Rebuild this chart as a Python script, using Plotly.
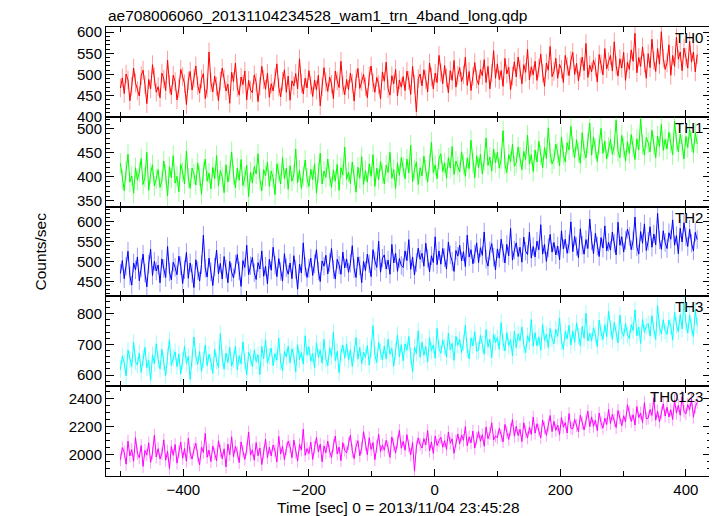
import plotly.graph_objects as go
from plotly.subplots import make_subplots

# time bins (sec): first bin and bin width
t_start = -500
t_step = 3

th0 = [468, 492, 455, 501, 487, 438, 472, 515, 480, 462,
       449, 497, 510, 476, 431, 488, 466, 523, 494, 458,
       471, 445, 503, 489, 462, 534, 477, 452, 498, 483,
       440, 467, 512, 495, 478, 429, 485, 507, 463, 491,
       520, 474, 456, 489, 502, 443, 468, 553, 481, 459,
       496, 472, 438, 484, 515, 490, 461, 477, 432, 505,
       483, 527, 469, 451, 494, 476, 508, 440, 486, 463,
       457, 499, 481, 436, 472, 519, 488, 465, 503, 446,
       478, 461, 492, 525, 470, 447, 484, 511, 458, 496,
       439, 485, 473, 502, 466, 537, 479, 454, 491, 468,
       509, 475, 448, 487, 463, 498, 426, 471, 516, 482,
       460, 494, 477, 443, 508, 485, 469, 531, 474, 452,
       488, 464, 503, 479, 437, 490, 514, 467, 483, 500,
       471, 445, 496, 520, 481, 458, 493, 476, 442, 506,
       484, 529, 466, 451, 497, 478, 512, 449, 487, 470,
       495, 462, 508, 486, 453, 519, 477, 412, 490, 501,
       473, 511, 488, 459, 527, 494, 466, 503, 481, 545,
       504, 478, 521, 492, 457, 509, 486, 533, 470, 498,
       516, 483, 499, 541, 474, 507, 462, 495, 528, 489,
       476, 512, 497, 535, 481, 519, 466, 503, 556, 491,
       525, 488, 509, 472, 538, 501, 517, 464, 496, 530,
       494, 541, 512, 478, 523, 505, 559, 487, 518, 499,
       531, 486, 515, 548, 503, 472, 527, 510, 566, 495,
       507, 538, 491, 524, 512, 481, 545, 519, 497, 533,
       552, 500, 526, 485, 517, 541, 509, 573, 493, 522,
       506, 534, 518, 482, 547, 525, 499, 561, 513, 530,
       545, 508, 577, 521, 496, 537, 515, 552, 486, 529,
       512, 558, 531, 597, 504, 540, 519, 565, 527, 491,
       549, 516, 583, 533, 507, 561, 524, 601, 538, 512,
       527, 570, 498, 545, 519, 588, 536, 553, 509, 562,
       541, 515, 578, 529, 553, 506, 547]

th1 = [428, 395, 371, 412, 447, 389, 402, 366, 419, 393,
       410, 438, 384, 399, 451, 372, 407, 425, 381, 396,
       415, 378, 392, 433, 405, 360, 421, 398, 444, 387,
       401, 369, 426, 410, 385, 454, 397, 376, 418, 406,
       383, 429, 402, 364, 412, 437, 391, 408, 375, 420,
       396, 444, 381, 413, 400, 367, 425, 389, 411, 452,
       404, 377, 418, 393, 436, 382, 399, 424, 359, 410,
       387, 421, 406, 448, 394, 371, 415, 402, 431, 380,
       412, 398, 363, 427, 409, 385, 440, 396, 418, 374,
       423, 391, 405, 458, 388, 414, 376, 401, 435, 397,
       380, 416, 394, 427, 366, 408, 449, 385, 412, 399,
       437, 402, 378, 415, 391, 426, 372, 419, 404, 462,
       395, 410, 386, 431, 403, 368, 420, 397, 442, 384,
       413, 389, 427, 401, 446, 380, 418, 394, 432, 407,
       385, 424, 409, 451, 397, 415, 376, 429, 403, 440,
       421, 396, 437, 408, 466, 390, 415, 431, 384, 419,
       402, 443, 414, 389, 428, 472, 409, 425, 396, 437,
       448, 411, 429, 397, 440, 418, 463, 405, 433, 421,
       410, 452, 426, 401, 439, 417, 476, 428, 398, 444,
       419, 447, 406, 435, 481, 424, 441, 412, 458, 429,
       451, 418, 437, 496, 426, 409, 446, 432, 468, 422,
       429, 462, 441, 415, 453, 436, 487, 427, 446, 411,
       456, 431, 474, 445, 419, 461, 438, 502, 449, 427,
       437, 468, 450, 423, 483, 446, 431, 471, 456, 505,
       462, 440, 477, 451, 428, 492, 455, 439, 470, 512,
       445, 483, 459, 432, 467, 501, 449, 474, 437, 462,
       478, 447, 465, 518, 452, 440, 486, 461, 433, 473,
       449, 488, 463, 436, 479, 456, 521, 468, 445, 482,
       471, 452, 497, 466, 440, 485, 463, 509, 455, 478,
       458, 493, 470, 446, 516, 474, 452, 489, 467, 437,
       484, 461, 499, 473, 450, 492, 469]

th2 = [471, 503, 458, 489, 526, 465, 442, 497, 480, 512,
       453, 485, 519, 472, 438, 494, 531, 466, 501, 477,
       492, 448, 507, 483, 461, 538, 475, 455, 499, 486,
       468, 514, 490, 446, 480, 523, 459, 497, 471, 436,
       505, 478, 452, 493, 566, 484, 462, 509, 475, 441,
       487, 529, 470, 496, 457, 513, 482, 448, 501, 474,
       460, 494, 518, 477, 439, 503, 486, 541, 468, 490,
       511, 473, 456, 498, 482, 527, 464, 489, 445, 506,
       479, 536, 491, 463, 508, 476, 452, 520, 485, 469,
       497, 458, 515, 481, 432, 494, 472, 547, 488, 461,
       484, 509, 466, 495, 530, 477, 451, 502, 489, 516,
       470, 498, 533, 481, 457, 506, 492, 469, 524, 485,
       507, 474, 496, 540, 483, 461, 512, 490, 448, 501,
       478, 519, 495, 463, 530, 502, 486, 551, 474, 509,
       517, 482, 504, 469, 543, 497, 521, 476, 508, 491,
       486, 527, 503, 555, 481, 512, 467, 498, 534, 506,
       521, 489, 546, 508, 475, 515, 498, 562, 493, 527,
       494, 533, 510, 482, 549, 517, 501, 476, 528, 514,
       541, 502, 525, 488, 566, 512, 530, 495, 519, 547,
       498, 535, 516, 574, 506, 489, 527, 545, 511, 480,
       532, 509, 556, 521, 497, 543, 515, 583, 504, 529,
       547, 513, 536, 499, 561, 526, 518, 574, 509, 538,
       512, 551, 530, 592, 519, 543, 501, 535, 568, 524,
       548, 517, 539, 505, 577, 532, 556, 521, 544, 599,
       525, 563, 538, 510, 582, 541, 519, 555, 533, 606,
       552, 520, 571, 539, 513, 560, 534, 589, 527, 548,
       529, 574, 546, 517, 598, 541, 562, 524, 553, 581,
       563, 530, 552, 611, 537, 519, 575, 546, 594, 528,
       551, 587, 536, 569, 542, 620, 554, 531, 577, 548,
       533, 572, 556, 604, 541, 565, 520, 583, 549, 597,
       562, 538, 581, 546, 527, 573, 555]

th3 = [618, 662, 640, 597, 681, 651, 628, 707, 644, 633,
       672, 609, 655, 690, 624, 648, 583, 666, 637, 702,
       651, 620, 684, 643, 599, 661, 715, 632, 656, 676,
       627, 669, 604, 647, 693, 638, 661, 586, 653, 724,
       660, 635, 677, 612, 649, 698, 631, 668, 643, 606,
       684, 646, 625, 735, 657, 619, 672, 641, 690, 629,
       652, 694, 618, 663, 637, 708, 645, 601, 674, 658,
       627, 681, 644, 666, 602, 693, 653, 715, 639, 660,
       688, 631, 670, 649, 720, 642, 615, 677, 659, 694,
       640, 686, 662, 611, 699, 651, 673, 636, 728, 665,
       692, 645, 670, 624, 705, 658, 682, 639, 716, 653,
       631, 689, 661, 740, 647, 677, 608, 671, 698, 655,
       702, 649, 683, 628, 669, 722, 652, 690, 637, 675,
       658, 696, 633, 684, 761, 664, 641, 707, 676, 649,
       695, 652, 717, 668, 687, 629, 680, 731, 660, 699,
       646, 702, 681, 726, 663, 610, 690, 671, 744, 658,
       707, 664, 693, 643, 722, 679, 698, 655, 752, 686,
       671, 714, 690, 659, 737, 682, 703, 648, 726, 697,
       716, 673, 706, 762, 684, 653, 721, 695, 741, 678,
       681, 729, 700, 668, 748, 691, 716, 657, 733, 706,
       722, 684, 771, 705, 679, 738, 696, 715, 662, 743,
       689, 734, 712, 756, 697, 673, 728, 708, 781, 694,
       738, 695, 724, 681, 765, 712, 733, 690, 752, 719,
       702, 749, 726, 786, 709, 684, 741, 718, 762, 698,
       743, 706, 770, 727, 695, 758, 720, 801, 711, 736,
       712, 754, 731, 693, 779, 740, 716, 764, 725, 808,
       751, 716, 772, 738, 705, 795, 742, 726, 768, 731,
       719, 764, 745, 812, 728, 756, 703, 781, 739, 760,
       768, 727, 793, 749, 716, 826, 755, 735, 780, 743,
       732, 779, 758, 714, 805, 762, 741, 797, 750, 838,
       771, 737, 795, 756, 725, 812, 761]

th0123 = [1962, 2048, 2015, 1930, 2095, 1988, 2034, 1951, 2120, 2005,
          1976, 2063, 1914, 2028, 1995, 2082, 1943, 2010, 2137, 1981,
          2041, 1967, 2005, 2104, 1958, 2022, 1899, 2056, 1993, 2071,
          1937, 2019, 2088, 1972, 2043, 1951, 2115, 2008, 1966, 2035,
          2079, 1990, 1925, 2052, 2014, 2150, 1979, 2031, 1948, 2060,
          2003, 1954, 2097, 2026, 1969, 2040, 1910, 2074, 1997, 2126,
          1983, 2058, 2012, 1941, 2089, 2021, 1964, 2037, 2160, 1995,
          2032, 1958, 2084, 1990, 2046, 1927, 2012, 2109, 1975, 2051,
          1989, 2067, 2024, 1946, 2128, 2003, 2058, 1961, 2039, 2095,
          2054, 1976, 2102, 2015, 1952, 2071, 2030, 2180, 1993, 2041,
          2006, 2087, 1964, 2049, 2121, 2018, 2073, 1947, 2060, 2012,
          2095, 2020, 1978, 2064, 2131, 2003, 2052, 1955, 2083, 2030,
          2011, 2076, 2137, 2025, 1969, 2058, 2098, 1990, 2047, 2162,
          2072, 1997, 2119, 2035, 2084, 1962, 2055, 2143, 2021, 2066,
          2030, 2101, 2047, 1978, 2124, 2068, 2010, 2089, 2172, 2044,
          2093, 2029, 2141, 2060, 1996, 2085, 1880, 2052, 2118, 2071,
          2045, 2113, 2068, 2170, 2024, 2089, 2007, 2131, 2063, 2097,
          2122, 2051, 2098, 2036, 2160, 2079, 2112, 2008, 2094, 2146,
          2076, 2139, 2101, 2198, 2062, 2125, 2083, 2166, 2045, 2117,
          2163, 2094, 2141, 2058, 2195, 2112, 2150, 2226, 2103, 2132,
          2118, 2187, 2136, 2090, 2214, 2158, 2107, 2176, 2249, 2130,
          2201, 2135, 2179, 2092, 2226, 2160, 2118, 2193, 2143, 2267,
          2152, 2219, 2174, 2118, 2245, 2190, 2136, 2207, 2278, 2163,
          2236, 2172, 2210, 2141, 2264, 2195, 2227, 2153, 2292, 2188,
          2183, 2250, 2206, 2162, 2281, 2224, 2175, 2240, 2309, 2199,
          2268, 2201, 2245, 2170, 2296, 2226, 2188, 2259, 2214, 2322,
          2221, 2287, 2243, 2192, 2314, 2262, 2205, 2276, 2233, 2355,
          2301, 2236, 2284, 2210, 2342, 2263, 2296, 2227, 2370, 2255,
          2260, 2321, 2279, 2403, 2245, 2310, 2232, 2296, 2362, 2274,
          2337, 2268, 2319, 2250, 2388, 2296, 2351, 2280, 2412, 2310,
          2290, 2356, 2318, 2395, 2266, 2340, 2372]

names = ["TH0", "TH1", "TH2", "TH3", "TH0123"]
series = [th0, th1, th2, th3, th0123]
errors = [22, 21, 23, 27, 46]
colors = ["#ff0000", "#00ff00", "#0000ff", "#00ffff", "#ff00ff"]
err_colors = ["rgba(255,0,0,0.4)", "rgba(0,255,0,0.4)", "rgba(0,0,255,0.4)",
              "rgba(0,255,255,0.4)", "rgba(255,0,255,0.4)"]
y_ranges = [[400, 612], [338, 525], [414, 637], [564, 856], [1845, 2488]]
y_dticks = [50, 50, 50, 100, 200]
y_minor = [10, 10, 10, 20, 50]
x_range = [-523, 440]

title_text = "ae708006060_20131104234528_wam1_trn_4band_long.qdp"
x_title = "Time [sec] 0 = 2013/11/04 23:45:28"
y_title = "Counts/sec"

FONT = "Liberation Sans, Arial, Helvetica, sans-serif"

fig = make_subplots(rows=5, cols=1, shared_xaxes=True, vertical_spacing=0)

for i, y in enumerate(series):
    x = [t_start + t_step * k for k in range(len(y))]
    fig.add_trace(go.Scatter(
        x=x, y=y, mode="lines",
        line=dict(color=colors[i], width=1),
        error_y=dict(type="constant", value=errors[i], color=err_colors[i],
                     thickness=1, width=0),
        showlegend=False, hoverinfo="skip"), row=i + 1, col=1)
    fig.update_yaxes(range=y_ranges[i], dtick=y_dticks[i], tick0=0,
                     ticks="inside", ticklen=8, tickcolor="black", tickwidth=1,
                     showline=True, linecolor="black", linewidth=1, mirror="ticks",
                     showgrid=False, zeroline=False,
                     minor=dict(dtick=y_minor[i], tick0=0, ticks="inside",
                                ticklen=4, tickcolor="black", showgrid=False),
                     row=i + 1, col=1)
    ax = "" if i == 0 else str(i + 1)
    fig.add_annotation(text=names[i], xref=f"x{ax} domain", yref=f"y{ax} domain",
                       x=1, y=1, xanchor="right", yanchor="top", xshift=-6, yshift=0,
                       showarrow=False, font=dict(size=15, color="black", family=FONT))

fig.update_xaxes(range=x_range, dtick=200, tick0=0,
                 ticks="inside", ticklen=7, tickcolor="black", tickwidth=1,
                 showline=True, linecolor="black", linewidth=1, mirror="ticks",
                 showgrid=False, zeroline=False,
                 minor=dict(dtick=100, tick0=0, ticks="inside", ticklen=5,
                            tickcolor="black", showgrid=False))

fig.add_annotation(text=title_text, xref="paper", yref="paper", x=0, y=1,
                   xanchor="left", yanchor="bottom", yshift=1, showarrow=False,
                   font=dict(size=15.5, color="black", family=FONT))
fig.add_annotation(text=x_title, xref="paper", yref="paper", x=0.4835, y=0,
                   xanchor="center", yanchor="middle", yshift=-31, showarrow=False,
                   font=dict(size=15.5, color="black", family=FONT))
fig.add_annotation(text=y_title, xref="paper", yref="paper", x=-0.109, y=0.5,
                   xanchor="center", yanchor="middle", textangle=-90, showarrow=False,
                   font=dict(size=15.5, color="black", family=FONT))

# page body has an 8 px margin: figure is drawn 8 px in from the top-left
fig.update_layout(width=709, height=508,
                  margin=dict(l=98, r=6, t=19, b=40),
                  paper_bgcolor="white", plot_bgcolor="white",
                  font=dict(family=FONT, size=15, color="black"))

fig.write_html("out.html")
